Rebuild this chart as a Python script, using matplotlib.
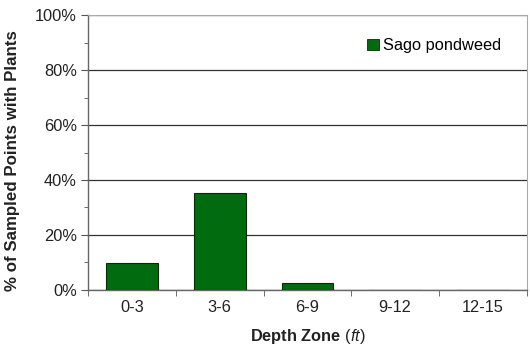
import matplotlib
matplotlib.use("Agg")
import matplotlib.pyplot as plt
from matplotlib.ticker import MultipleLocator, FuncFormatter
from matplotlib.patches import Patch

categories = ["0-3", "3-6", "6-9", "9-12", "12-15"]
sago = [9.8, 35.2, 2.5, 0, 0]

plt.rcParams['font.family'] = ['Liberation Sans', 'DejaVu Sans']
plt.rcParams['mathtext.fontset'] = 'custom'
plt.rcParams['mathtext.it'] = 'Liberation Sans:italic'
plt.rcParams['mathtext.rm'] = 'Liberation Sans'

FS = 11.8

fig = plt.figure(figsize=(5.30, 3.51), dpi=100)
ax = fig.add_axes([0.166, 0.174, 0.828, 0.783])

x = range(len(categories))
ax.bar(x, sago, width=0.59, color="#006b0f", edgecolor="#0a2a0a", linewidth=0.8, zorder=3)

ax.set_xlim(-0.5, len(categories) - 0.5)
ax.set_ylim(0, 100)
ax.set_xticks(list(x))
ax.set_xticklabels(categories, fontsize=FS, color="#222222")
ax.tick_params(axis='x', length=0, pad=7)
# category separator ticks
ax.set_xticks([i + 0.5 for i in range(-1, len(categories))], minor=True)
ax.tick_params(axis='x', which='minor', length=4, direction='out', color="#555555")

ax.yaxis.set_major_locator(MultipleLocator(20))
ax.yaxis.set_minor_locator(MultipleLocator(10))
ax.yaxis.set_major_formatter(FuncFormatter(lambda v, p: f"{int(v)}%"))
ax.tick_params(axis='y', which='major', length=5, labelsize=FS, labelcolor="#222222", color="#555555", pad=3)
ax.tick_params(axis='y', which='minor', length=3, color="#555555")

ax.grid(axis='y', which='major', color="#333333", linewidth=0.9, zorder=0)

for side in ("top", "right"):
    ax.spines[side].set_color("#aaaaaa")
    ax.spines[side].set_linewidth(0.8)
for side in ("left", "bottom"):
    ax.spines[side].set_color("#666666")
    ax.spines[side].set_linewidth(1.0)

ax.set_ylabel("% of Sampled Points with Plants", fontsize=12.2, fontweight='bold', color="#222222")
ax.yaxis.set_label_coords(-0.155, 0.47)
ax.set_xlabel(r"Depth Zone $\mathit{(ft)}$", fontsize=FS, fontweight='bold', color="#222222", labelpad=9)

handles = [Patch(facecolor="#006b0f", edgecolor="#0a2a0a", linewidth=0.6)]
ax.legend(handles, ["Sago pondweed"], loc='upper right', bbox_to_anchor=(0.975, 0.97),
          frameon=False, fontsize=FS, handlelength=0.7, handleheight=0.7, handletextpad=0.25)

fig.savefig("out.png", dpi=100)
